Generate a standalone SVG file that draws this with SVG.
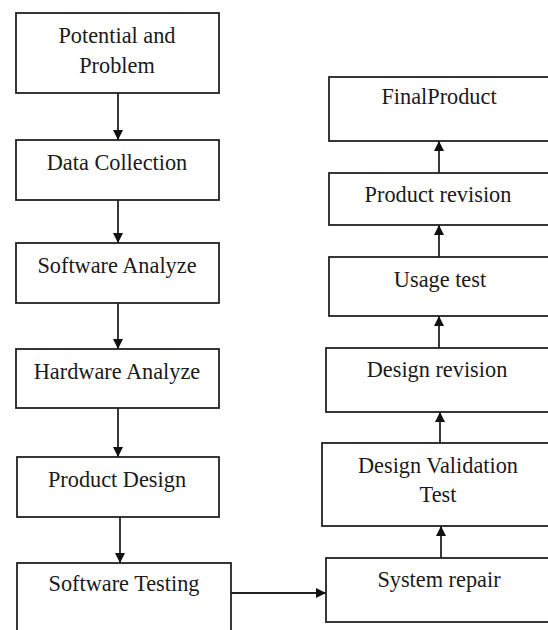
<svg xmlns="http://www.w3.org/2000/svg" width="548" height="630" viewBox="0 0 548 630">
<style>
.box{fill:#fff;stroke:#222;stroke-width:1.8}
.lbl{font-size:22.3px;fill:#1a1a1a;text-anchor:middle}
.con{stroke:#222;stroke-width:1.8;fill:none}
</style>
<defs>
<marker id="ah" viewBox="0 0 10 10" refX="10" refY="5" markerWidth="10" markerHeight="10" markerUnits="userSpaceOnUse" orient="auto">
<path d="M0,0 L10,5 L0,10 z" fill="#111"/>
</marker>
</defs>
<rect width="548" height="630" fill="#fff"/>
<g font-family="'Liberation Serif', 'DejaVu Serif', serif">
<g id="potential-problem"><rect class="box" x="16" y="13" width="203" height="80"/><text class="lbl" x="117" y="43">Potential and</text><text class="lbl" x="117" y="73">Problem</text></g>
<g id="data-collection"><rect class="box" x="16" y="140" width="203" height="60"/><text class="lbl" x="117" y="170">Data Collection</text></g>
<g id="software-analyze"><rect class="box" x="16" y="243" width="203" height="60"/><text class="lbl" x="117" y="273">Software Analyze</text></g>
<g id="hardware-analyze"><rect class="box" x="16" y="349" width="203" height="59"/><text class="lbl" x="117" y="379">Hardware Analyze</text></g>
<g id="product-design"><rect class="box" x="17" y="457" width="202" height="60"/><text class="lbl" x="117" y="487">Product Design</text></g>
<g id="software-testing"><rect class="box" x="17" y="563" width="214" height="80"/><text class="lbl" x="124" y="591">Software Testing</text></g>
<g id="final-product"><rect class="box" x="329" y="77" width="230" height="64"/><text class="lbl" x="439" y="104">FinalProduct</text></g>
<g id="product-revision"><rect class="box" x="329" y="173" width="230" height="52"/><text class="lbl" x="438" y="202">Product revision</text></g>
<g id="usage-test"><rect class="box" x="329" y="257" width="230" height="59"/><text class="lbl" x="440" y="287">Usage test</text></g>
<g id="design-revision"><rect class="box" x="326" y="348" width="233" height="64"/><text class="lbl" x="437" y="377">Design revision</text></g>
<g id="design-validation-test"><rect class="box" x="322" y="443" width="237" height="83"/><text class="lbl" x="438" y="473">Design Validation</text><text class="lbl" x="438" y="502">Test</text></g>
<g id="system-repair"><rect class="box" x="326" y="558" width="233" height="64"/><text class="lbl" x="439" y="587">System repair</text></g>
</g>
<g id="connectors">
<line class="con" x1="118" y1="93" x2="118" y2="140" marker-end="url(#ah)"/>
<line class="con" x1="118" y1="200" x2="118" y2="243" marker-end="url(#ah)"/>
<line class="con" x1="118" y1="303" x2="118" y2="349" marker-end="url(#ah)"/>
<line class="con" x1="118" y1="408" x2="118" y2="457" marker-end="url(#ah)"/>
<line class="con" x1="120" y1="517" x2="120" y2="563" marker-end="url(#ah)"/>
<line class="con" x1="231" y1="593" x2="326" y2="593" marker-end="url(#ah)"/>
<line class="con" x1="441" y1="558" x2="441" y2="526" marker-end="url(#ah)"/>
<line class="con" x1="440" y1="443" x2="440" y2="412" marker-end="url(#ah)"/>
<line class="con" x1="439" y1="348" x2="439" y2="316" marker-end="url(#ah)"/>
<line class="con" x1="439" y1="257" x2="439" y2="225" marker-end="url(#ah)"/>
<line class="con" x1="439" y1="173" x2="439" y2="141" marker-end="url(#ah)"/>
</g>
</svg>
